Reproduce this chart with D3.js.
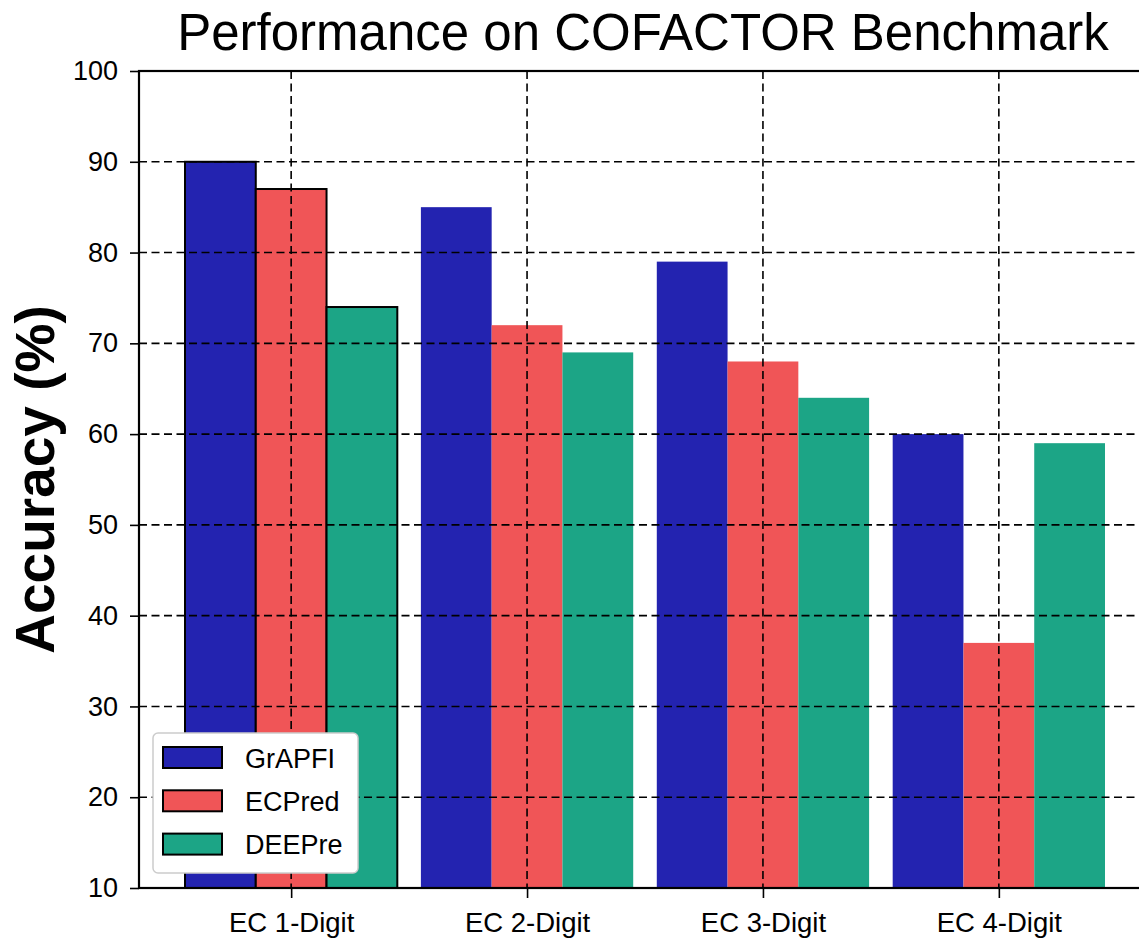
<!DOCTYPE html>
<html>
<head>
<meta charset="utf-8">
<script src="https://cdn.jsdelivr.net/npm/d3@7"></script>
<style>
  body { margin: 0; background: #fff; }
  text { font-family: "Liberation Sans", Arial, sans-serif; }
</style>
</head>
<body>
<div id="chart"></div>
<script>
var width = 1139;
var height = 938;

var categories = ["EC 1-Digit", "EC 2-Digit", "EC 3-Digit", "EC 4-Digit"];
var seriesNames = ["GrAPFI", "ECPred", "DEEPre"];
var grapfi = [90, 85, 79, 60];
var ecpred = [87, 72, 68, 37];
var deepre = [74, 69, 64, 59];
var yTicks = [10, 20, 30, 40, 50, 60, 70, 80, 90, 100];
var colors = ["#2323b0", "#f05557", "#1ca586"];

var margin = { left: 139, top: 71, bottom: 888 };
var plotRight = 1151;

function createSVG() {
  return d3.select("#chart")
    .append("svg")
    .attr("width", width)
    .attr("height", height);
}

function drawChart(svg) {
  var series = [grapfi, ecpred, deepre];
  var barW = 0.3;

  var x = d3.scaleLinear()
    .domain([-0.645, 3.645])
    .range([margin.left, plotRight]);
  var y = d3.scaleLinear()
    .domain([10, 100])
    .range([margin.bottom, margin.top]);

  // bars
  series.forEach(function(vals, s) {
    svg.selectAll(".bar" + s)
      .data(vals)
      .enter()
      .append("rect")
      .attr("x", function(d, i) { return x(i + (s - 1) * barW - barW / 2); })
      .attr("width", x(barW) - x(0))
      .attr("y", function(d) { return y(d); })
      .attr("height", function(d) { return y(10) - y(d); })
      .attr("fill", colors[s])
      .attr("stroke", function(d, i) { return i === 0 ? "#000" : "none"; })
      .attr("stroke-width", 2);
  });

  // grid (drawn above bars)
  svg.selectAll(".hgrid")
    .data(yTicks)
    .enter()
    .append("line")
    .attr("x1", margin.left).attr("x2", plotRight)
    .attr("y1", function(d) { return y(d); })
    .attr("y2", function(d) { return y(d); })
    .attr("stroke", "#000")
    .attr("stroke-width", 1.6)
    .attr("stroke-dasharray", "8,4.5");

  svg.selectAll(".vgrid")
    .data(categories)
    .enter()
    .append("line")
    .attr("x1", function(d, i) { return x(i); })
    .attr("x2", function(d, i) { return x(i); })
    .attr("y1", margin.top).attr("y2", margin.bottom)
    .attr("stroke", "#000")
    .attr("stroke-width", 1.6)
    .attr("stroke-dasharray", "8,4.5");

  // axes
  var yAxis = d3.axisLeft(y)
    .tickValues(yTicks)
    .tickSize(9)
    .tickPadding(12);
  var gy = svg.append("g")
    .attr("transform", "translate(" + margin.left + ",0)")
    .call(yAxis);
  gy.select(".domain").remove();
  gy.attr("font-size", null).attr("font-family", null);
  gy.selectAll(".tick line").attr("stroke", "#000").attr("stroke-width", 1.6);
  gy.selectAll(".tick text")
    .style("font-size", "27px")
    .attr("fill", "#000");

  var xAxis = d3.axisBottom(x)
    .tickValues([0, 1, 2, 3])
    .tickFormat(function(d) { return categories[d]; })
    .tickSize(10)
    .tickPadding(14);
  var gx = svg.append("g")
    .attr("transform", "translate(0," + margin.bottom + ")")
    .call(xAxis);
  gx.select(".domain").remove();
  gx.attr("font-size", null).attr("font-family", null);
  gx.selectAll(".tick line").attr("stroke", "#000").attr("stroke-width", 1.6);
  gx.selectAll(".tick text")
    .style("font-size", "27.5px")
    .attr("fill", "#000");

  // spines
  svg.append("rect")
    .attr("x", margin.left)
    .attr("y", margin.top)
    .attr("width", plotRight - margin.left)
    .attr("height", margin.bottom - margin.top)
    .attr("fill", "none")
    .attr("stroke", "#000")
    .attr("stroke-width", 2.2);

  // title
  svg.append("text")
    .attr("x", 643)
    .attr("y", 50)
    .attr("text-anchor", "middle")
    .style("font-size", "51px")
    .attr("fill", "#000")
    .text("Performance on COFACTOR Benchmark");

  // y label
  svg.append("text")
    .attr("transform", "translate(54," + ((margin.top + margin.bottom) / 2) + ") rotate(-90)")
    .attr("text-anchor", "middle")
    .style("font-size", "55px")
    .attr("font-weight", "bold")
    .attr("fill", "#000")
    .text("Accuracy (%)");

  // legend
  var lg = svg.append("g").attr("transform", "translate(153,733)");
  lg.append("rect")
    .attr("width", 205).attr("height", 140)
    .attr("rx", 5)
    .attr("fill", "#fff")
    .attr("stroke", "#cccccc")
    .attr("stroke-width", 1.5);
  seriesNames.forEach(function(name, i) {
    var row = lg.append("g").attr("transform", "translate(0," + (24.5 + i * 43.3) + ")");
    row.append("rect")
      .attr("x", 10).attr("y", -10.5)
      .attr("width", 59).attr("height", 21)
      .attr("fill", colors[i])
      .attr("stroke", "#000")
      .attr("stroke-width", 2);
    row.append("text")
      .attr("x", 92).attr("y", 10)
      .style("font-size", "27px")
      .attr("fill", "#000")
      .text(name);
  });
}

window.onload = function() {
  var svg = createSVG();
  drawChart(svg);
};
</script>
</body>
</html>
